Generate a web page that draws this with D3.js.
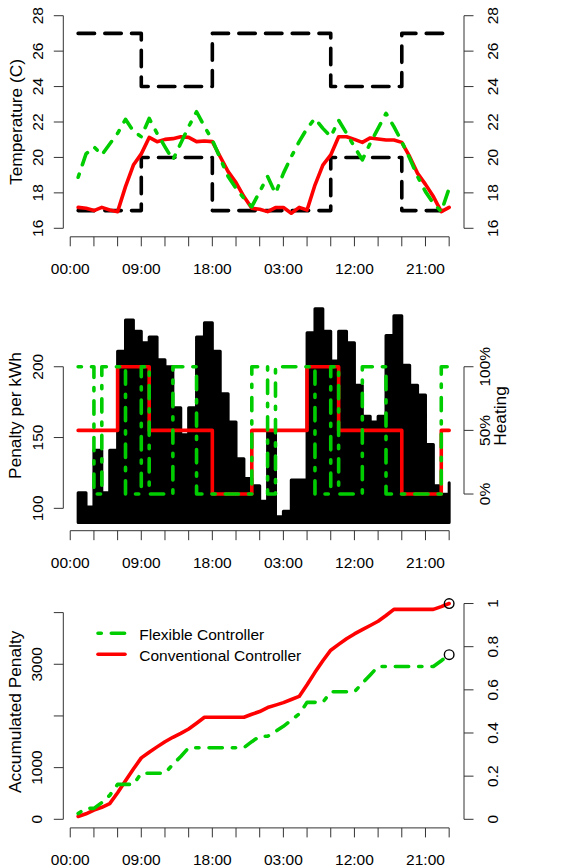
<!DOCTYPE html>
<html>
<head>
<meta charset="utf-8">
<title></title>
<style>
  body {margin: 0; background: #fff;}
  svg text {font-family: "Liberation Sans", Arial, Helvetica, sans-serif; font-size: 15.5px; fill: #000;}
  svg text.title {font-size: 17.3px;}
</style>
</head>
<body>
<script src="https://d3js.org/d3.v7.min.js"></script>
<div id="chart"></div>
<script>
// one value per simulated hour, hours 1..48
var hours = d3.range(1, 49);

// x axis: a tick every 3 hours, a label every 9
var tickHours = [0, 3, 6, 9, 12, 15, 18, 21, 24, 27, 30, 33, 36, 39, 42, 45, 48];
var labelHours = [0, 9, 18, 27, 36, 45];
var labelTimes = ["00:00", "09:00", "18:00", "03:00", "12:00", "21:00"];

// panel 1 : comfort band and room temperature (C)
var setUpper = [27,27,27,27,27,27,27,27,24,24,24,24,24,24,24,24,24,27,27,27,27,27,27,27,
                27,27,27,27,27,27,27,27,24,24,24,24,24,24,24,24,24,27,27,27,27,27,27,27];
var setLower = [17,17,17,17,17,17,17,17,20,20,20,20,20,20,20,20,20,17,17,17,17,17,17,17,
                17,17,17,17,17,17,17,17,20,20,20,20,20,20,20,20,20,17,17,17,17,17,17,17];
var tempConv = [17.18,17.13,17.0,17.18,17.03,16.94,18.35,19.57,20.2,21.13,20.89,21.02,
                21.06,21.17,21.13,20.89,20.93,20.89,20.04,19.2,18.58,17.79,17.13,17.07,
                16.94,17.17,17.17,16.85,17.18,17.03,18.44,19.57,20.14,21.17,21.17,21.02,
                20.85,21.1,21.04,20.98,20.98,20.85,20.04,19.1,18.48,17.79,16.94,17.18];
var tempFlex = [18.88,20.2,20.6,20.14,20.76,21.36,22.15,21.49,21.17,22.2,21.36,20.6,
                19.86,20.8,21.74,22.58,21.74,20.98,19.95,18.92,18.26,17.69,17.22,18.07,
                18.92,17.97,19.1,20.04,20.89,21.64,22.2,21.64,21.17,22.1,21.36,20.6,
                19.86,20.8,21.64,22.49,21.74,20.89,19.95,18.92,18.07,17.41,16.94,18.26];
var tempTicks = [16, 18, 20, 22, 24, 26, 28];

// panel 2 : penalty per kWh and heating share
var penalty = [111,101,141,111,141,211,233,225,217,221,205,200,171,152,171,221,231,211,181,161,135,121,116,105,
               155,94,98,120,120,224,241,225,204,225,217,187,165,161,165,222,236,201,187,180,145,116,110,118];
var heatConv = [0.5,0.5,0.5,0.5,0.5,1,1,1,1,0.5,0.5,0.5,0.5,0.5,0.5,0.5,0.5,0,0,0,0,0,0.5,0.5,
                0.5,0.5,0.5,0.5,0.5,1,1,1,1,0.5,0.5,0.5,0.5,0.5,0.5,0.5,0.5,0,0,0,0,0,0.5,0.5];
var heatFlex = [1,1,0,1,1,1,0,0,1,0,0,0,1,1,1,0,0,0,0,0,0,0,1,1,
                0,1,1,1,1,1,0,0,1,0,0,0,1,1,1,0,0,0,0,0,0,0,1,1];
var penTicks = [100, 150, 200];
var heatTicks = [0, 0.5, 1];
var heatLabels = ["0%", "50%", "100%"];

// panel 3 : accumulated penalty
var accConv = [55.5,106,176.5,232,302.5,513.5,746.5,971.5,1188.5,1299,1401.5,1501.5,
               1587,1663,1748.5,1859,1974.5,1974.5,1974.5,1974.5,1974.5,1974.5,2032.5,2085,
               2162.5,2209.5,2258.5,2318.5,2378.5,2602.5,2843.5,3068.5,3272.5,3385,3493.5,3587,
               3669.5,3750,3832.5,3943.5,4061.5,4061.5,4061.5,4061.5,4061.5,4061.5,4116.5,4175.5];
var accFlex = [111,212,212,323,464,675,675,675,892,892,892,892,
               1063,1215,1386,1386,1386,1386,1386,1386,1386,1386,1502,1607,
               1607,1701,1799,1919,2039,2263,2263,2263,2467,2467,2467,2467,
               2632,2793,2958,2958,2958,2958,2958,2958,2958,2958,3068,3186];
var accTicks = [0, 1000, 2000, 3000, 4000];
var accLabels = ["0", "1000", null, "3000", null];
var fracTicks = [0, 0.2, 0.4, 0.6, 0.8, 1];
var fracLabels = ["0", "0.2", "0.4", "0.6", "0.8", "1"];

var legendNames = ["Flexible Controller", "Conventional Controller"];

var GREEN = "#00cd00", RED = "#ff0000";
var LW = 3.6;
var DASHED = "16.4,10.3";
var DOTDASH = "3.3,10,13.3,10";

var svg = d3.select("#chart").append("svg")
    .attr("width", 588)
    .attr("height", 867);
svg.append("rect").attr("width", 588).attr("height", 867).attr("fill", "white");

var x = d3.scaleLinear().domain([-0.88, 49.88]).range([63.3, 464]);
var yTemp = d3.scaleLinear().domain([15.52, 28.48]).range([236.8, 7.2]);
var yPen = d3.scaleLinear().domain([84.2, 247]).range([530.7, 300.2]);
var yHeat = d3.scaleLinear().domain([0, 1]).range([yPen(110.1), yPen(200)]);
var yAcc = d3.scaleLinear().domain([-166.4, 4327]).range([827.9, 595.7]);
var yFrac = d3.scaleLinear().domain([0, 1]).range([yAcc(0), yAcc(d3.max(accConv))]);

function drawLine(data, yScale, color, dash, curve)
{
  svg.append("path")
    .datum(data)
    .attr("fill", "none")
    .attr("stroke", color)
    .attr("stroke-width", LW)
    .attr("stroke-linecap", "round")
    .attr("stroke-linejoin", "round")
    .attr("stroke-dasharray", dash)
    .attr("d", d3.line()
      .curve(curve || d3.curveLinear)
      .x(function(d, i) { return x(hours[i]) })
      .y(function(d) { return yScale(d) }));
}

function drawTimeAxis(y0)
{
  var g = svg.append("g");
  g.append("line")
    .attr("x1", x(tickHours[0])).attr("x2", x(tickHours[tickHours.length - 1]))
    .attr("y1", y0).attr("y2", y0)
    .attr("stroke", "#333");
  g.selectAll("tick").data(tickHours).enter().append("line")
    .attr("x1", function(d) { return x(d) }).attr("x2", function(d) { return x(d) })
    .attr("y1", y0).attr("y2", y0 + 9.5)
    .attr("stroke", "#333");
  g.selectAll("lab").data(labelHours).enter().append("text")
    .attr("x", function(d) { return x(d) })
    .attr("y", y0 + 37)
    .attr("text-anchor", "middle")
    .text(function(d, i) { return labelTimes[i] });
}

// vertical axis, labels turned to read bottom-to-top like R does
function drawValueAxis(scale, ticks, labels, axisX, dir, labelX)
{
  var g = svg.append("g");
  g.append("line")
    .attr("x1", axisX).attr("x2", axisX)
    .attr("y1", scale(ticks[0])).attr("y2", scale(ticks[ticks.length - 1]))
    .attr("stroke", "#333");
  g.selectAll("tick").data(ticks).enter().append("line")
    .attr("x1", axisX).attr("x2", axisX + dir * 9.5)
    .attr("y1", function(d) { return scale(d) }).attr("y2", function(d) { return scale(d) })
    .attr("stroke", "#333");
  g.selectAll("lab").data(ticks).enter().append("text")
    .filter(function(d, i) { return labels[i] != null })
    .attr("transform", function(d) { return "translate(" + labelX + "," + scale(d) + ") rotate(-90)" })
    .attr("text-anchor", "middle")
    .text(function(d) { return labels[ticks.indexOf(d)] });
}

function axisTitle(txt, bx, cy)
{
  svg.append("text")
    .attr("class", "title")
    .attr("transform", "translate(" + bx + "," + cy + ") rotate(-90)")
    .attr("text-anchor", "middle")
    .text(txt);
}

// ---- panel 1 : temperatures
drawLine(setUpper, yTemp, "#000", DASHED, d3.curveStepAfter);
drawLine(setLower, yTemp, "#000", DASHED, d3.curveStepAfter);
drawLine(tempConv, yTemp, RED, null);
drawLine(tempFlex, yTemp, GREEN, DOTDASH);
drawTimeAxis(236.8);
drawValueAxis(yTemp, tempTicks, tempTicks.map(String), 63.3, -1, 42.7);
drawValueAxis(yTemp, tempTicks, tempTicks.map(String), 464, 1, 498.3);
axisTitle("Temperature (C)", 22, 122);

// ---- panel 2 : penalty and heating
svg.append("path")
  .datum(penalty)
  .attr("fill", "#000")
  .attr("stroke", "#000")
  .attr("stroke-width", 3)
  .attr("stroke-linejoin", "round")
  .attr("d", d3.area()
    .curve(d3.curveStepAfter)
    .x(function(d, i) { return x(hours[i]) })
    .y0(yPen(90))
    .y1(function(d) { return yPen(d) }));
drawLine(heatConv, yHeat, RED, null, d3.curveStepAfter);
drawLine(heatFlex, yHeat, GREEN, DOTDASH, d3.curveStepAfter);
drawTimeAxis(530.7);
drawValueAxis(yPen, penTicks, penTicks.map(String), 63.3, -1, 42.7);
drawValueAxis(yHeat, heatTicks, heatLabels, 464, 1, 489.5);
axisTitle("Penalty per kWh", 21, 415.5);
axisTitle("Heating", 506, 416);

// ---- panel 3 : accumulated penalty
drawLine(accConv, yAcc, RED, null);
drawLine(accFlex, yAcc, GREEN, DOTDASH);
svg.append("g").selectAll("end").data([accConv, accFlex]).enter().append("circle")
  .attr("cx", x(hours[hours.length - 1]))
  .attr("cy", function(d) { return yAcc(d[d.length - 1]) })
  .attr("r", 4.8)
  .attr("fill", "none")
  .attr("stroke", "#000")
  .attr("stroke-width", 1.4);
drawTimeAxis(827.9);
drawValueAxis(yAcc, accTicks, accLabels, 63.3, -1, 42);
drawValueAxis(yFrac, fracTicks, fracLabels, 464, 1, 497.5);
axisTitle("Accumulated Penalty", 21, 711.8);

// legend
var legColors = [GREEN, RED], legDash = [DOTDASH, null], legY = [633.3, 654.3];
var leg = svg.append("g");
leg.selectAll("lline").data(legendNames).enter().append("line")
  .attr("x1", 98).attr("x2", 125)
  .attr("y1", function(d, i) { return legY[i] }).attr("y2", function(d, i) { return legY[i] })
  .attr("stroke", function(d, i) { return legColors[i] })
  .attr("stroke-width", LW)
  .attr("stroke-linecap", "round")
  .attr("stroke-dasharray", function(d, i) { return legDash[i] });
leg.selectAll("ltext").data(legendNames).enter().append("text")
  .attr("x", 139.3)
  .attr("y", function(d, i) { return legY[i] + 6.7 })
  .text(function(d) { return d });
</script>
</body>
</html>
